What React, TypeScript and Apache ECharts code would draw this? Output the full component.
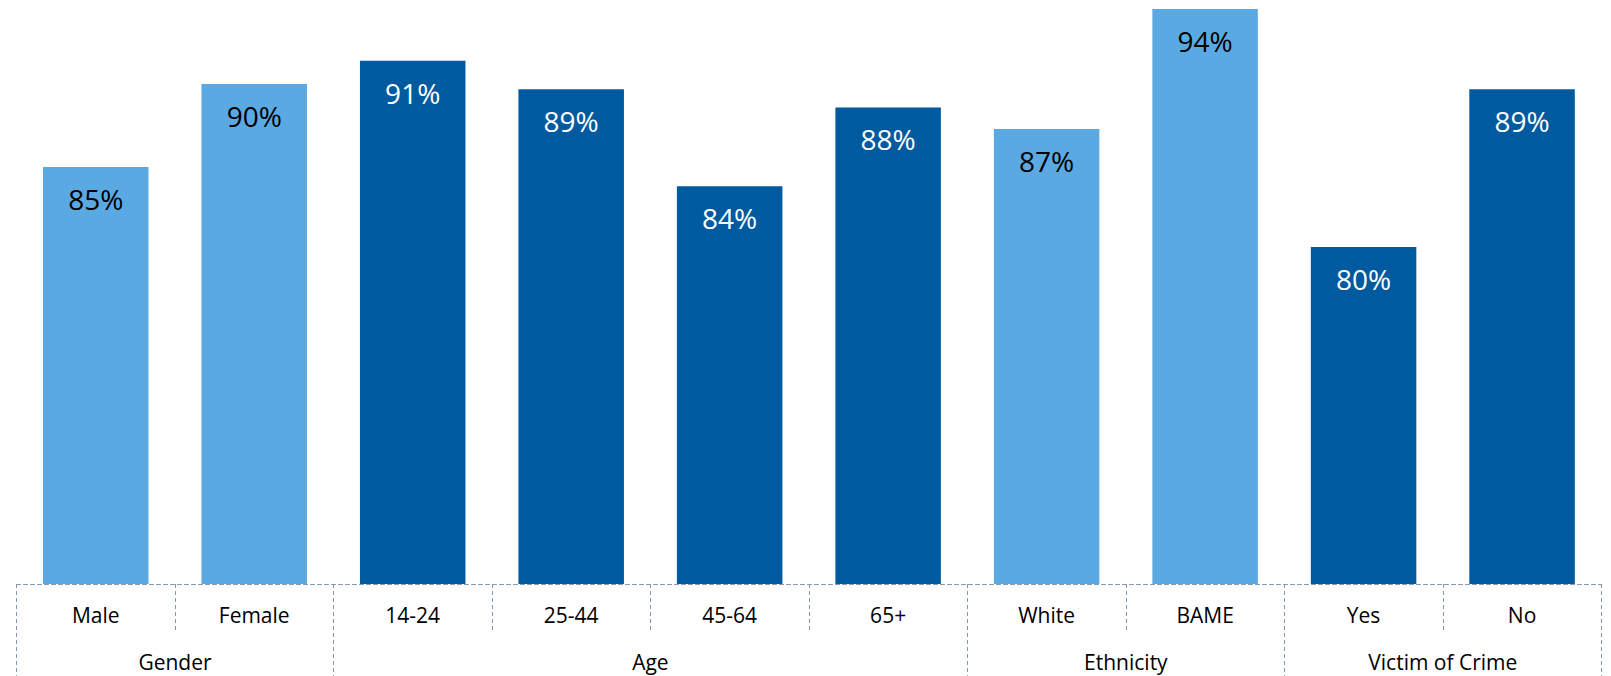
import React, { useEffect, useRef } from "react";
import * as echarts from "echarts";

const categories = ["Male", "Female", "14-24", "25-44", "45-64", "65+", "White", "BAME", "Yes", "No"];
const values = [84.73, 89.66, 91.04, 89.34, 83.59, 88.27, 86.99, 94.1, 79.99, 89.34];
const barTone = ["light", "light", "dark", "dark", "dark", "dark", "light", "light", "dark", "dark"];
const groups = ["Gender", "Age", "Ethnicity", "Victim of Crime"];
const groupCenters = [1, 4, 7, 9];
const groupBounds = [0, 2, 6, 8, 10];

const LIGHT = "#5BA9E3";
const DARK = "#005A9F";
const LINE = "#8796B0";
const FONT = "'Open Sans', 'Noto Sans', sans-serif";

export default function App() {
  const ref = useRef<HTMLDivElement>(null);
  useEffect(() => {
    if (!ref.current) return;
    const chart = echarts.init(ref.current, undefined, { renderer: "svg" });
    const data = values.map((v, i) => ({
      value: v,
      itemStyle: { color: barTone[i] === "light" ? LIGHT : DARK },
      label: { color: barTone[i] === "light" ? "#000000" : "#FFFFFF" },
    }));
    chart.setOption({
      animation: false,
      backgroundColor: "#FFFFFF",
      grid: { left: 16.5, right: 9.7, top: 0, bottom: 92, containLabel: false },
      xAxis: [
        {
          type: "category",
          data: categories,
          position: "bottom",
          axisLine: { show: true, lineStyle: { color: LINE, type: [4, 3], width: 1 } },
          axisTick: { show: true, interval: 0, length: 48, lineStyle: { color: LINE, type: [4, 3], width: 1 } },
          axisLabel: { interval: 0, margin: 20, fontSize: 21, color: "#000000", fontFamily: FONT },
        },
        {
          type: "value",
          min: 0,
          max: 10,
          position: "bottom",
          axisLine: { show: false },
          splitLine: { show: false },
          axisTick: {
            show: true,
            length: 92,
            customValues: groupBounds,
            lineStyle: { color: LINE, type: [4, 3], width: 1 },
          },
          axisLabel: {
            show: true,
            customValues: groupCenters,
            margin: 67,
            fontSize: 21,
            color: "#000000",
            fontFamily: FONT,
            formatter: (v: number) => {
              const idx = groupCenters.indexOf(Math.round(v));
              return idx >= 0 ? groups[idx] : "";
            },
          },
        },
      ],
      yAxis: {
        type: "value",
        min: 60,
        max: 94.64,
        show: false,
        splitLine: { show: false },
      },
      series: [
        {
          type: "bar",
          xAxisIndex: 0,
          data,
          barWidth: 105.5,
          label: {
            show: true,
            position: ["50%", 32],
            align: "center",
            verticalAlign: "middle",
            fontSize: 28,
            fontFamily: FONT,
            formatter: (p: any) => Math.round(p.value) + "%",
          },
        },
      ],
    });
    return () => chart.dispose();
  }, []);
  return (
    <div
      ref={ref}
      style={{ position: "fixed", left: 0, top: 0, width: 1611, height: 676, background: "#FFFFFF" }}
    />
  );
}
